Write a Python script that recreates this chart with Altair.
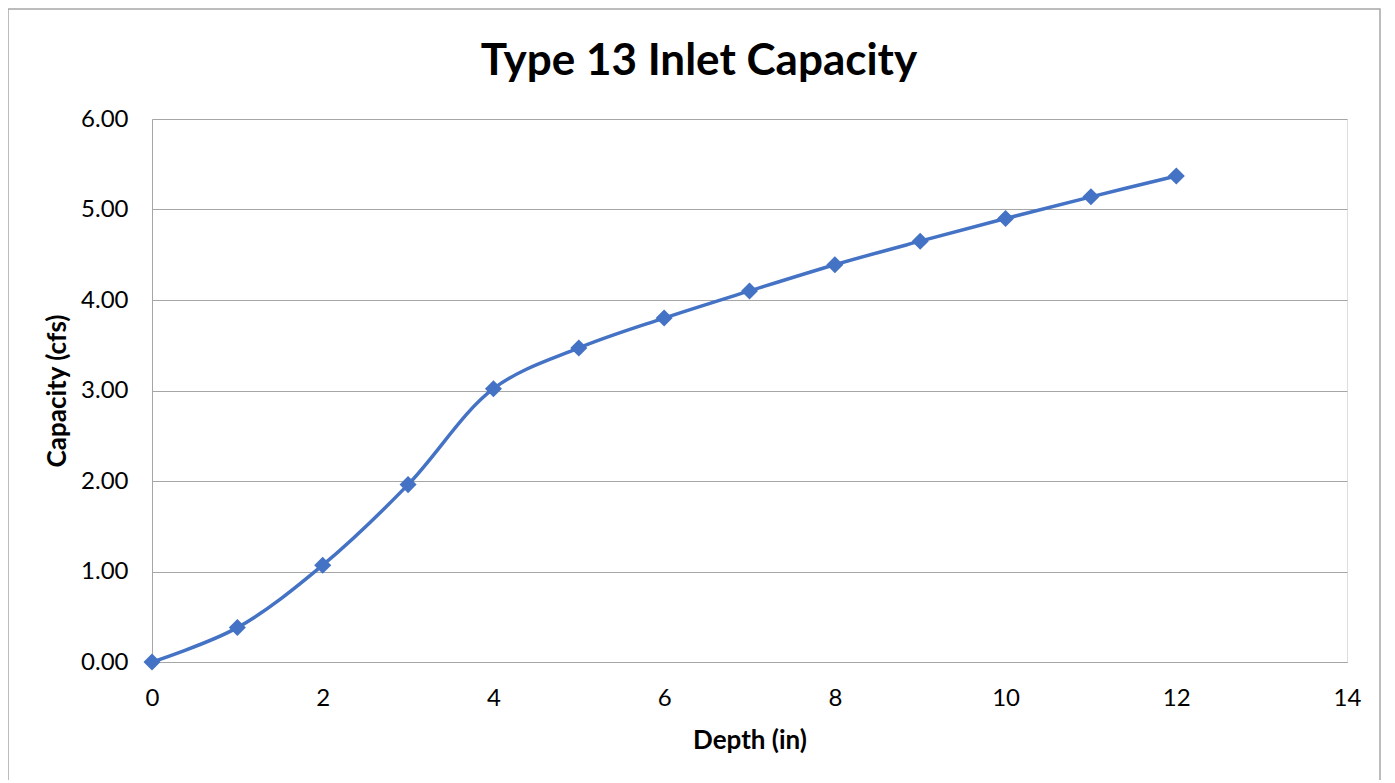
import altair as alt
import pandas as pd

depth = [0, 1, 2, 3, 4, 5, 6, 7, 8, 9, 10, 11, 12]
capacity = [0.00, 0.38, 1.07, 1.96, 3.02, 3.47, 3.80, 4.10, 4.39, 4.65, 4.90, 5.14, 5.37]
title_text = ["Type 13 Inlet Capacity"]

df = pd.DataFrame({"Depth": depth, "Capacity": capacity})

FONT = "Lato"
BLUE = "#4472C4"
GRID = "#a6a6a6"
W, H = 1195, 543

x = alt.X("Depth:Q", scale=alt.Scale(domain=[0, 14], nice=False),
          axis=alt.Axis(title="Depth (in)", values=list(range(0, 15, 2)), grid=False,
                        ticks=False, tickSize=0, domain=True, domainColor=GRID,
                        labelFlush=False,
                        labelPadding=24, labelFontSize=24, labelFont=FONT, labelColor="#000",
                        titleFont=FONT, titleFontSize=26, titleFontWeight="bold",
                        titleColor="#000", titleY=78, titleBaseline="middle"))
y = alt.Y("Capacity:Q", scale=alt.Scale(domain=[0, 6], nice=False),
          axis=alt.Axis(title="Capacity (cfs)", values=[0, 1, 2, 3, 4, 5, 6], format=".2f",
                        grid=True, gridColor=GRID, gridWidth=1,
                        ticks=False, tickSize=0, domain=True, domainColor=GRID,
                        labelPadding=24, labelFontSize=24, labelFont=FONT, labelColor="#000",
                        titleFont=FONT, titleFontSize=26, titleFontWeight="bold",
                        titleColor="#000", titleX=-95, titleY=H / 2, titleAngle=-90,
                        titleBaseline="middle"))

border = alt.Chart(pd.DataFrame({"b": [0]})).mark_rect(
    fill=None, stroke="#a6a6a6", strokeWidth=1.5
).encode(x=alt.value(-144), x2=alt.value(W + 33), y=alt.value(-110), y2=alt.value(H + 140))

title = alt.Chart(pd.DataFrame({"t": title_text})).mark_text(
    font=FONT, fontSize=44, fontWeight="bold", color="#000", align="center", baseline="alphabetic"
).encode(text="t:N", x=alt.value(547), y=alt.value(-44))

line = alt.Chart(df).mark_line(color=BLUE, strokeWidth=3.5, interpolate="catmull-rom").encode(x=x, y=y)
pts = alt.Chart(df).mark_point(shape="diamond", filled=True, color=BLUE, size=290, opacity=1).encode(x=x, y=y)

chart = alt.layer(border, title, line, pts).properties(
    width=W, height=H,
    padding={"left": 144, "top": 111, "right": 35, "bottom": 118},
    autosize=alt.AutoSizeParams(type="none"),
).configure_view(stroke=None).configure(background="white")

chart.save("out.html", embed_options={"renderer": "svg", "actions": False})
